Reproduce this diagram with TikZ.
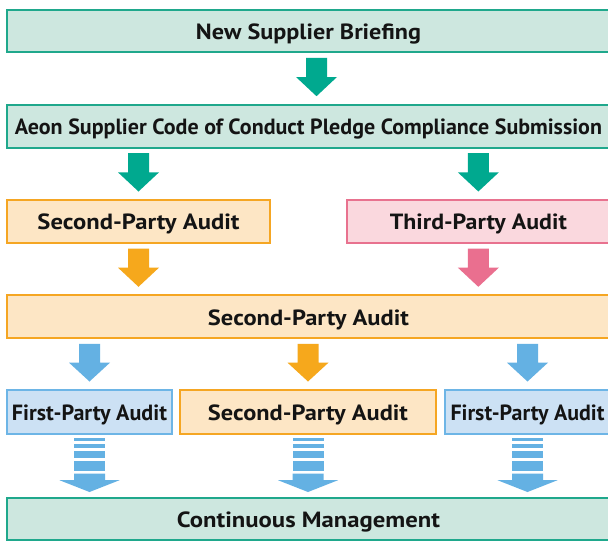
\documentclass[tikz,border=0pt]{standalone}
\usepackage{fontspec}
\setmainfont{PT Sans}
\usetikzlibrary{calc}
\definecolor{tealline}{HTML}{1FA88C}
\definecolor{tealfill}{HTML}{CDE7DF}
\definecolor{tealarrow}{HTML}{00A98F}
\definecolor{orangeline}{HTML}{F5A623}
\definecolor{orangefill}{HTML}{FDE6C5}
\definecolor{orangearrow}{HTML}{F6A81C}
\definecolor{pinkline}{HTML}{E8728F}
\definecolor{pinkfill}{HTML}{FAD8DE}
\definecolor{pinkarrow}{HTML}{EA6F8F}
\definecolor{blueline}{HTML}{6DB5E6}
\definecolor{bluefill}{HTML}{CCE1F4}
\definecolor{bluearrow}{HTML}{64B1E3}
\definecolor{textblack}{HTML}{141414}
\newcommand{\fitw}[2]{\resizebox{#1pt}{\height}{#2}}
% color, from node, to node, x reference
\newcommand{\fatarrow}[4]{%
  \coordinate (ft) at ($(#3.north -| #4)+(0,-7.5)$);
  \coordinate (fs) at ($(#2.south -| #4)+(0,4.5)$);
  \fill[#1] ($(fs)+(-10.5,0)$) -- ($(fs)+(10.5,0)$) -- ($(fs)!0.5!(ft)+(10.5,0)$)
    -- ($(fs)!0.5!(ft)+(20.5,0)$) -- (ft) -- ($(fs)!0.5!(ft)+(-20.5,0)$)
    -- ($(fs)!0.5!(ft)+(-10.5,0)$) -- cycle;}
% from node, to node
\newcommand{\stripearrow}[2]{%
  \coordinate (ss) at ($(#1.south)+(0,3.7)$);
  \fill[bluearrow] ($(ss)+(-15.5,0)$) rectangle ($(ss)+(15.5,2.3)$);
  \fill[bluearrow] ($(ss)+(-15.5,5.3)$) rectangle ($(ss)+(15.5,10)$);
  \fill[bluearrow] ($(ss)+(-15.5,13)$) rectangle ($(ss)+(15.5,19.3)$);
  \fill[bluearrow] ($(ss)+(-15.5,22.3)$) rectangle ($(ss)+(15.5,32.3)$);
  \fill[bluearrow] ($(ss)+(-15.5,35.3)$) -- ($(ss)+(15.5,35.3)$) -- ($(ss)+(15.5,42)$)
    -- ($(ss)+(30,42)$) -- ($(#2.north -| ss)+(0,-4.7)$) -- ($(ss)+(-30,42)$)
    -- ($(ss)+(-15.5,42)$) -- cycle;}
\begin{document}
\begin{tikzpicture}[x=1pt,y=-1pt,
  box/.style={draw, line width=2pt, inner sep=0pt, text height=16.5pt, text depth=0pt,
    font=\fontsize{22}{25}\selectfont\bfseries, text=textblack},
  tealbox/.style={box, draw=tealline, fill=tealfill},
  orangebox/.style={box, draw=orangeline, fill=orangefill},
  pinkbox/.style={box, draw=pinkline, fill=pinkfill},
  bluebox/.style={box, draw=blueline, fill=bluefill}]
\useasboundingbox (0,0) rectangle (608,541);
\clip (0,0) rectangle (608,541);
\fill[white] (0,0) rectangle (608,541);

\node[tealbox, minimum width=603, minimum height=42.6] (b1) at (308.5,31) {\fitw{225}{New Supplier Briefing}};
\node[tealbox, minimum width=603, minimum height=43] (b2) at (308.5,126.2) {\fitw{587}{Aeon Supplier Code of Conduct Pledge Compliance Submission}};
\node[orangebox, minimum width=263, minimum height=43] (b3l) at (138.5,221.5) {\fitw{202}{Second-Party Audit}};
\node[pinkbox, minimum width=263.3, minimum height=43] (b3r) at (478.35,221.5) {\fitw{177}{Third-Party Audit}};
\node[orangebox, minimum width=603, minimum height=43] (b4) at (308.5,316.8) {\fitw{201}{Second-Party Audit}};
\node[bluebox, minimum width=165, minimum height=43.5] (b5l) at (89.5,411.75) {\fitw{155}{First-Party Audit}};
\node[orangebox, minimum width=256, minimum height=43.5] (b5m) at (308,411.75) {\fitw{200}{Second-Party Audit}};
\node[bluebox, minimum width=165, minimum height=43.5] (b5r) at (527.5,411.75) {\fitw{154}{First-Party Audit}};
\node[tealbox, minimum width=603, minimum height=42.3] (b6) at (308.5,518.85) {\fitw{263}{Continuous Management}};

\coordinate (x1) at ($(b1.south)+(8,0)$);
\fatarrow{tealarrow}{b1}{b2}{x1}
\fatarrow{tealarrow}{b2}{b3l}{b3l}
\fatarrow{tealarrow}{b2}{b3r}{b3r}
\fatarrow{orangearrow}{b3l}{b4}{b3l}
\fatarrow{pinkarrow}{b3r}{b4}{b3r}
\fatarrow{bluearrow}{b4}{b5l}{b5l}
\fatarrow{orangearrow}{b4}{b5m}{b5m}
\fatarrow{bluearrow}{b4}{b5r}{b5r}
\stripearrow{b5l}{b6}
\stripearrow{b5m}{b6}
\stripearrow{b5r}{b6}
\end{tikzpicture}
\end{document}
